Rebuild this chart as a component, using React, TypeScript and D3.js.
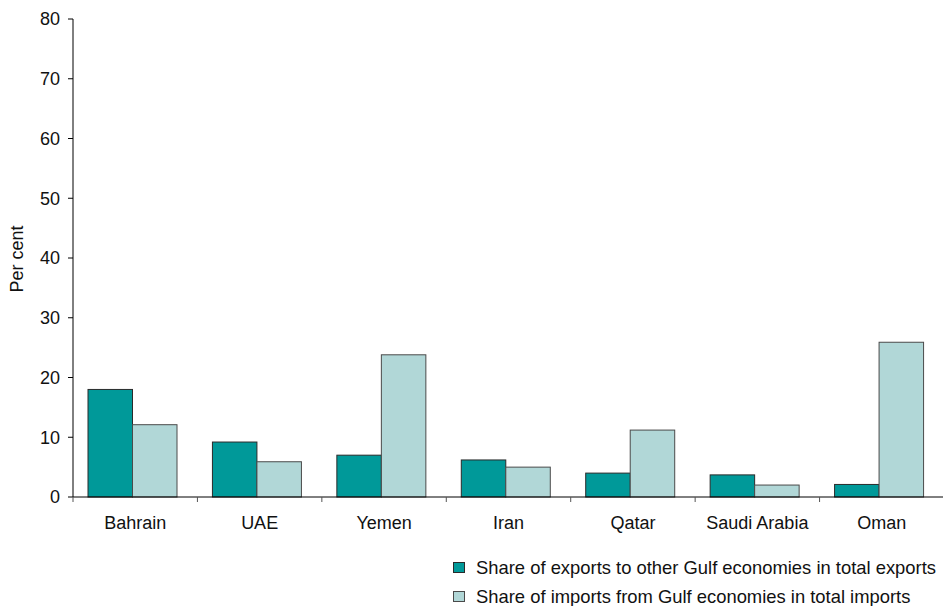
import React from "react";
import * as d3 from "d3";

const categories = ["Bahrain", "UAE", "Yemen", "Iran", "Qatar", "Saudi Arabia", "Oman"];
const exportsShare = [18.0, 9.2, 7.0, 6.2, 4.0, 3.7, 2.1];
const importsShare = [12.1, 5.9, 23.8, 5.0, 11.2, 2.0, 25.9];
const seriesNames = [
  "Share of exports to other Gulf economies in total exports",
  "Share of imports from Gulf economies in total imports",
];
const yTicks = [0, 10, 20, 30, 40, 50, 60, 70, 80];
const colors = ["#009999", "#b1d7d7"];
const strokes = ["#2a2a2a", "#4a4a4a"];

export default function App() {
  const W = 943, H = 606;
  const left = 73, right = 944, top = 19, bottom = 497;
  const font = "Arial, 'Liberation Sans', sans-serif";
  const y = d3.scaleLinear().domain([0, 80]).range([bottom, top]);
  const x0 = d3.scaleBand<string>().domain(categories).range([left, right]).padding(0);
  const x1 = d3.scaleBand<number>().domain([0, 1]).range([15, 104]).padding(0);
  const series = [exportsShare, importsShare];
  const boundaries = categories.map((c) => x0(c)!).concat([right]);

  return (
    <svg width={W} height={H} style={{ position: "absolute", left: 0, top: 0 }} fontFamily={font}>
      <rect width={W} height={H} fill="#fff" />
      {categories.map((c, i) =>
        series.map((s, j) => (
          <rect
            key={c + j}
            x={x0(c)! + x1(j)!}
            y={y(s[i])}
            width={x1.bandwidth()}
            height={bottom - y(s[i])}
            fill={colors[j]}
            stroke={strokes[j]}
            strokeWidth={1}
          />
        ))
      )}
      {/* y axis */}
      <line x1={left} x2={left} y1={top} y2={bottom} stroke="#000" strokeWidth={1} />
      {yTicks.map((t) => (
        <g key={t}>
          <line x1={left - 5} x2={left} y1={y(t)} y2={y(t)} stroke="#000" />
          <text x={left - 13} y={y(t)} dy="0.35em" textAnchor="end" fontSize={18} fill="#111">
            {t}
          </text>
        </g>
      ))}
      <text
        transform={`translate(23,${(top + bottom) / 2 + 1}) rotate(-90)`}
        textAnchor="middle"
        fontSize={18}
        fill="#111"
      >
        Per cent
      </text>
      {/* x axis */}
      <line x1={left} x2={W} y1={bottom} y2={bottom} stroke="#000" strokeWidth={1} />
      {boundaries.map((b, i) => (
        <line key={i} x1={b} x2={b} y1={bottom} y2={bottom + 5} stroke="#555" />
      ))}
      {categories.map((c) => (
        <text key={c} x={x0(c)! + x0.bandwidth() / 2} y={529} textAnchor="middle" fontSize={18} fill="#111">
          {c}
        </text>
      ))}
      {/* legend */}
      {seriesNames.map((n, j) => (
        <g key={n} transform={`translate(453,${562 + j * 29})`}>
          <rect x={0.5} y={0.5} width={11} height={10} fill={colors[j]} stroke={strokes[j]} />
          <text x={23} y={6} dy="0.35em" fontSize={18.4} fill="#111">
            {n}
          </text>
        </g>
      ))}
    </svg>
  );
}
